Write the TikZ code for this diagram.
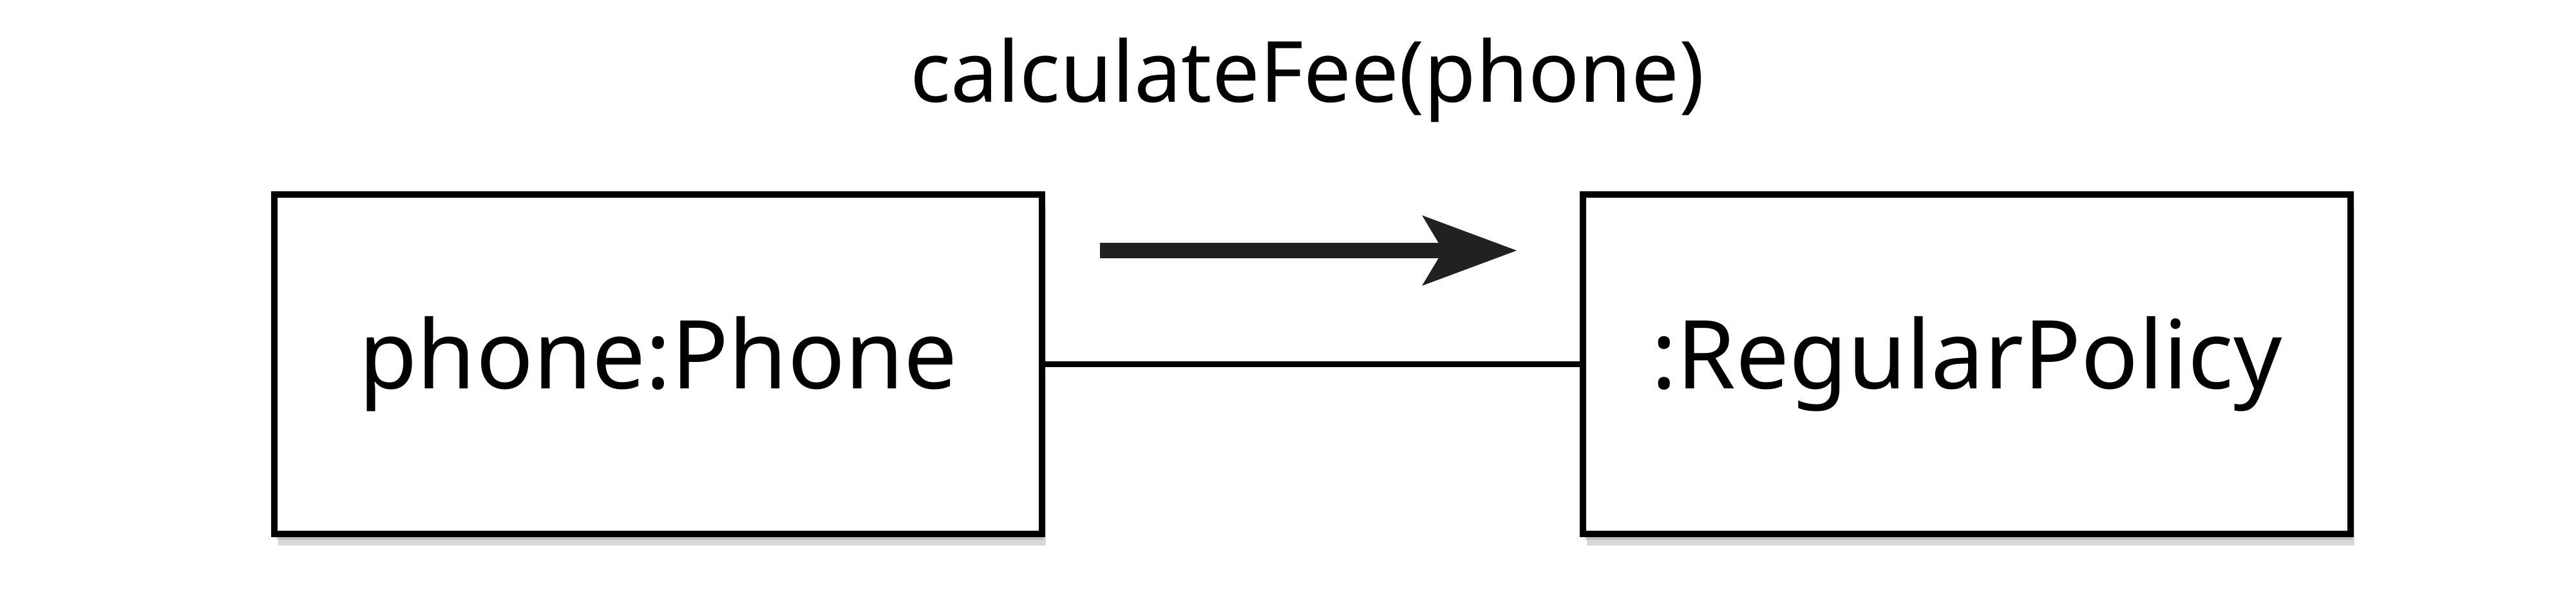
\documentclass[tikz,border=0pt]{standalone}
\usepackage{fontspec}
\setmainfont{Noto Sans}
\usetikzlibrary{arrows.meta,positioning,shadows}

\begin{document}
\begin{tikzpicture}[
  obj/.style={draw, line width=2.8pt, fill=white, minimum width=11.92cm, minimum height=5.27cm,
    inner sep=0pt, font=\fontsize{42}{49}\selectfont,
    double copy shadow={shadow xshift=0.03cm, shadow yshift=-0.09cm, opacity=0.35, draw=none, fill=black!45}},
  msg/.style={font=\fontsize{37.3}{44}\selectfont},
  link/.style={line width=2.6pt},
  call/.style={-{Stealth[length=1.45cm, width=1.05cm, inset=0.3cm]}, line width=7pt, black!87}
]
\useasboundingbox (0,0) rectangle (40,9.44);
\node[obj] (phone) at (10.22,3.785) {phone:Phone};
\node[obj, right=8.3cm of phone] (policy) {:RegularPolicy};
\draw[link] (phone) -- (policy);
\coordinate (callstart) at (17.08,5.55);
\coordinate (callend) at (23.56,5.55);
\draw[call] (callstart) -- (callend);
\node[msg, anchor=base] (fee) at (20.3,7.85) {calculateFee(phone)};
\end{tikzpicture}
\end{document}
